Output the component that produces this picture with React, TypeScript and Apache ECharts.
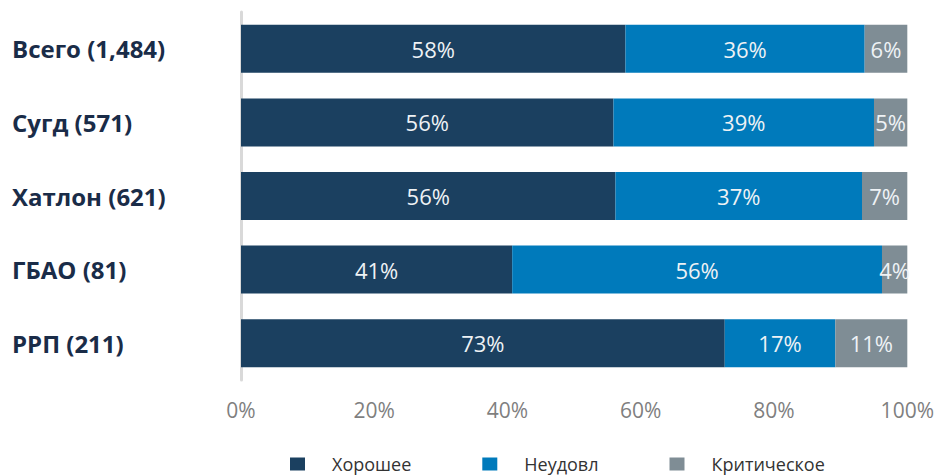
import React, { useEffect, useRef } from "react";
import * as echarts from "echarts";

const categories = ["Всего (1,484)", "Сугд (571)", "Хатлон (621)", "ГБАО (81)", "РРП (211)"];
const seriesNames = ["Хорошее", "Неудовл", "Критическое"];
const good = [57.7, 55.9, 56.2, 40.7, 72.6];
const poor = [35.9, 39.1, 37.0, 55.5, 16.6];
const critical = [6.4, 5.0, 6.8, 3.8, 10.8];
const colors = ["#1b4060", "#007abb", "#7f8d95"];

export default function App() {
  const ref = useRef<HTMLDivElement>(null);
  useEffect(() => {
    document.body.style.margin = "0";
    if (!ref.current) return;
    const chart = echarts.init(ref.current, undefined, { renderer: "svg" });
    const labelStyle = {
      show: true,
      position: "inside" as const,
      color: "#eef2f5",
      fontSize: 22,
      fontFamily: "Open Sans",
      formatter: (p: any) => Math.round(p.value) + "%",
    };
    const data = [good, poor, critical];
    chart.setOption({
      animation: false,
      textStyle: { fontFamily: "Open Sans" },
      grid: { left: 241, right: 26, top: 12, bottom: 95, containLabel: false },
      legend: {
        left: 290,
        top: 455,
        padding: 0,
        itemWidth: 15,
        itemHeight: 13,
        itemGap: 71,
        icon: "rect",
        data: seriesNames,
        textStyle: {
          fontSize: 18,
          lineHeight: 18,
          color: "#333333",
          fontFamily: "Open Sans",
          padding: [0, 0, 0, 22],
        },
      },
      xAxis: {
        type: "value",
        min: 0,
        max: 100,
        interval: 20,
        axisLine: { show: false },
        axisTick: { show: false },
        splitLine: { show: false },
        axisLabel: {
          formatter: "{value}%",
          color: "#7f7f7f",
          fontSize: 21,
          margin: 19,
          fontFamily: "Open Sans",
        },
      },
      yAxis: {
        type: "category",
        inverse: true,
        data: categories,
        axisLine: { show: true, lineStyle: { color: "#d9d9d9", width: 3 } },
        axisTick: { show: false },
        axisLabel: {
          align: "left",
          margin: 229,
          color: "#1a2c48",
          fontSize: 24,
          fontWeight: "bold",
          fontFamily: "Open Sans",
        },
      },
      series: seriesNames.map((name, i) => ({
        name,
        type: "bar",
        stack: "total",
        barWidth: 48,
        data: data[i],
        itemStyle: { color: colors[i] },
        label: labelStyle,
      })),
    });
    return () => chart.dispose();
  }, []);
  return <div ref={ref} style={{ width: 937, height: 475 }} />;
}
